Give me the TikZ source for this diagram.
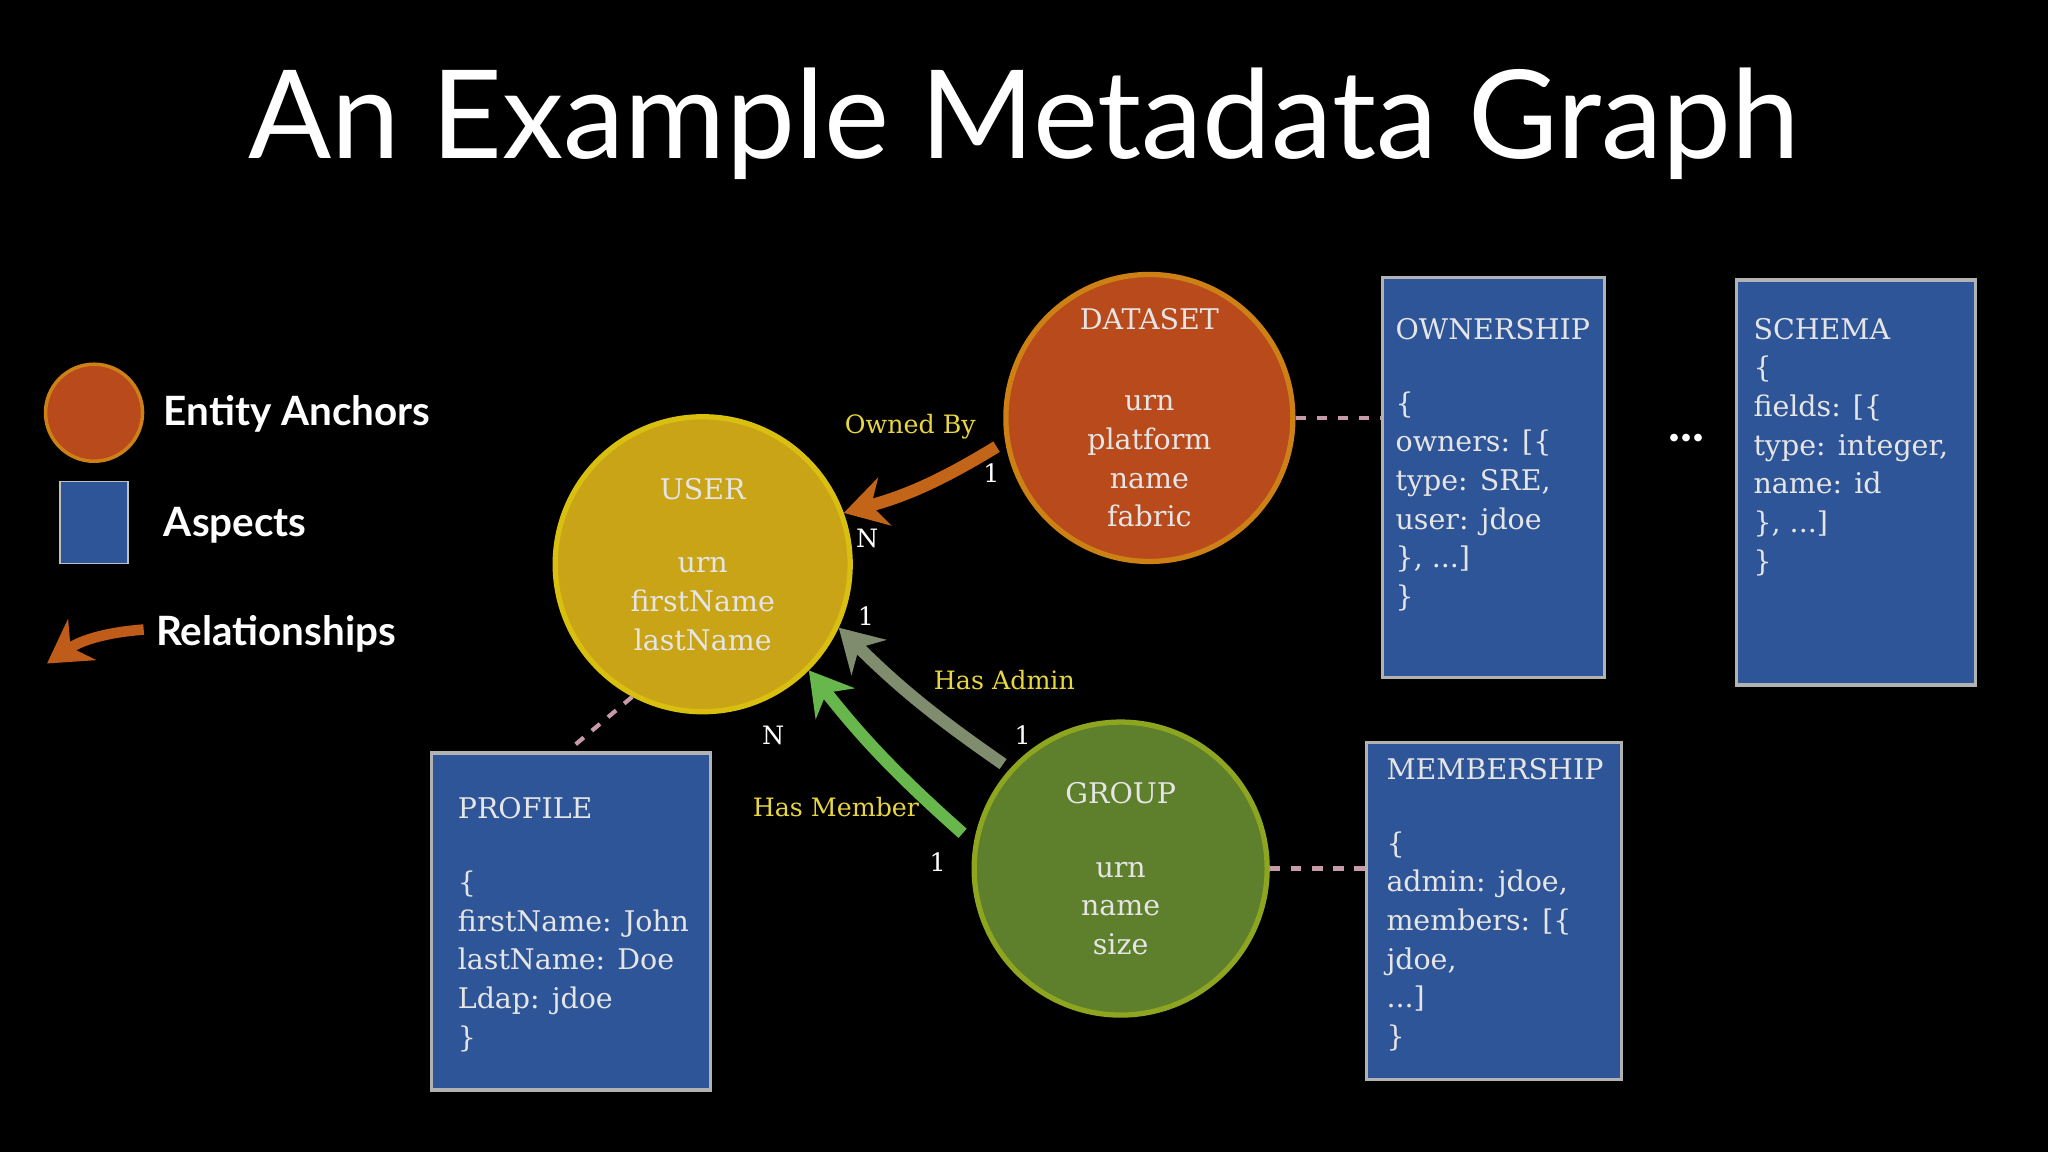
\documentclass[tikz,border=0pt]{standalone}
\usepackage{fontspec}
\setmainfont{Lato}
\newfontfamily\hand{DejaVu Serif}[Scale=0.9]
\usetikzlibrary{arrows.meta}
\definecolor{usery}{HTML}{C9A416}
\definecolor{dso}{HTML}{B84A1C}
\definecolor{grp}{HTML}{5E7F2C}
\definecolor{asp}{HTML}{2E5597}
\definecolor{lbl}{HTML}{E8D640}
\definecolor{dsh}{HTML}{C79AA8}
\begin{document}
\begin{tikzpicture}[x=0.01306cm,y=-0.01306cm,
  ent/.style={circle,draw=#1!70!yellow,line width=1.5pt,fill=#1,inner sep=0pt,text=white!90!black,align=center,font=\hand\small},
  aspect/.style={draw=gray!60,line width=1pt,fill=asp,anchor=north west,inner sep=0pt},
  atext/.style={anchor=north west,text=white!90!black,align=left,font=\hand\small,inner sep=0pt},
  rel/.style={line width=3.5pt,-{Stealth[length=12pt,width=14pt]},#1},
  tag/.style={text=lbl,font=\hand\footnotesize},
  num/.style={text=white,font=\hand\footnotesize},
  leg/.style={anchor=west,white,font=\bfseries\fontsize{11.5}{13}\selectfont},
  dl/.style={dsh,dashed,line width=1.2pt}]
\fill[black] (0,0) rectangle (1568,882);
\useasboundingbox (0,0) rectangle (1568,882);
\node[white,font=\fontsize{35}{40}\selectfont] (title) at (784,95) {An Example Metadata Graph};
% legend
\node[circle,fill=dso,draw=dso!70!yellow,minimum size=0.97cm,inner sep=0pt,line width=1pt] (lc) at (72,316) {};
\node[leg] (lt1) at (116,317) {Entity Anchors};
\node[fill=asp,minimum width=0.68cm,minimum height=0.82cm,inner sep=0pt,draw=gray!50] (ls) at (72,400) {};
\node[leg] (lt2) at (116,402) {Aspects};
\coordinate (la1) at (110,482); \coordinate (la2) at (36,508);
\draw[rel=dso!90!yellow,line width=3pt] (la1) to[bend right=15] (la2);
\node[leg] (lt3) at (110,485) {Relationships};
% entities
\node[ent=usery,minimum size=2.95cm] (user) at (538,432) {USER\\[10pt]urn\\firstName\\lastName};
\node[ent=dso,minimum size=2.87cm] (ds) at (880,320) {DATASET\\[12pt]urn\\platform\\name\\fabric};
\node[ent=grp,minimum size=2.93cm] (grp) at (858,665) {GROUP\\[10pt]urn\\name\\size};
% aspects
\node[aspect,minimum width=2.22cm,minimum height=4.0cm] (own) at (1057,211) {};
\node[atext] at (1068,243) {OWNERSHIP\\[10pt]\{\\owners: [\{\\type: SRE,\\user: jdoe\\\}, ...]\\\}};
\node[aspect,minimum width=2.39cm,minimum height=4.05cm] (sch) at (1328,213) {};
\node[atext] at (1342,243) {SCHEMA\\\{\\fields: [\{\\type: integer,\\name: id\\\}, ...]\\\}};
\node[aspect,minimum width=2.55cm,minimum height=3.37cm] (mem) at (1045,567) {};
\node[atext] at (1061,580) {MEMBERSHIP\\[10pt]\{\\admin: jdoe,\\members: [\{\\jdoe,\\...]\\\}};
\node[aspect,minimum width=2.79cm,minimum height=3.37cm] (prof) at (329,575) {};
\node[atext] at (350,610) {PROFILE\\[10pt]\{\\firstName: John\\lastName: Doe\\Ldap: jdoe\\\}};
\node[white,font=\bfseries\Large] (dots) at (1291,335) {...};
% dashed links
\draw[dl] (ds.east) -- (own.west |- ds.east);
\draw[dl] (grp.east) -- (mem.west |- grp.east);
\draw[dl] (user.-118) -- (437,573);
% relationships
\coordinate (ob) at (763,342); \coordinate (ha) at (768,585); \coordinate (hm) at (737,638);
\draw[rel=dso!85!yellow] (ob) to[bend left=8] (user.20);
\draw[rel=grp!40!gray!90!white] (ha) to[bend left=5] (user.-25);
\draw[rel=grp!70!green!80!white] (hm) to[bend left=5] (user.-45);
\node[tag] (t1) at (697,327) {Owned By};
\node[tag] (t2) at (769,521) {Has Admin};
\node[tag] (t3) at (640,618) {Has Member};
\node[num] at (759,362) {1};
\node[num] at (664,412) {N};
\node[num] at (663,472) {1};
\node[num] at (783,563) {1};
\node[num] at (592,563) {N};
\node[num] at (718,660) {1};
\end{tikzpicture}
\end{document}
